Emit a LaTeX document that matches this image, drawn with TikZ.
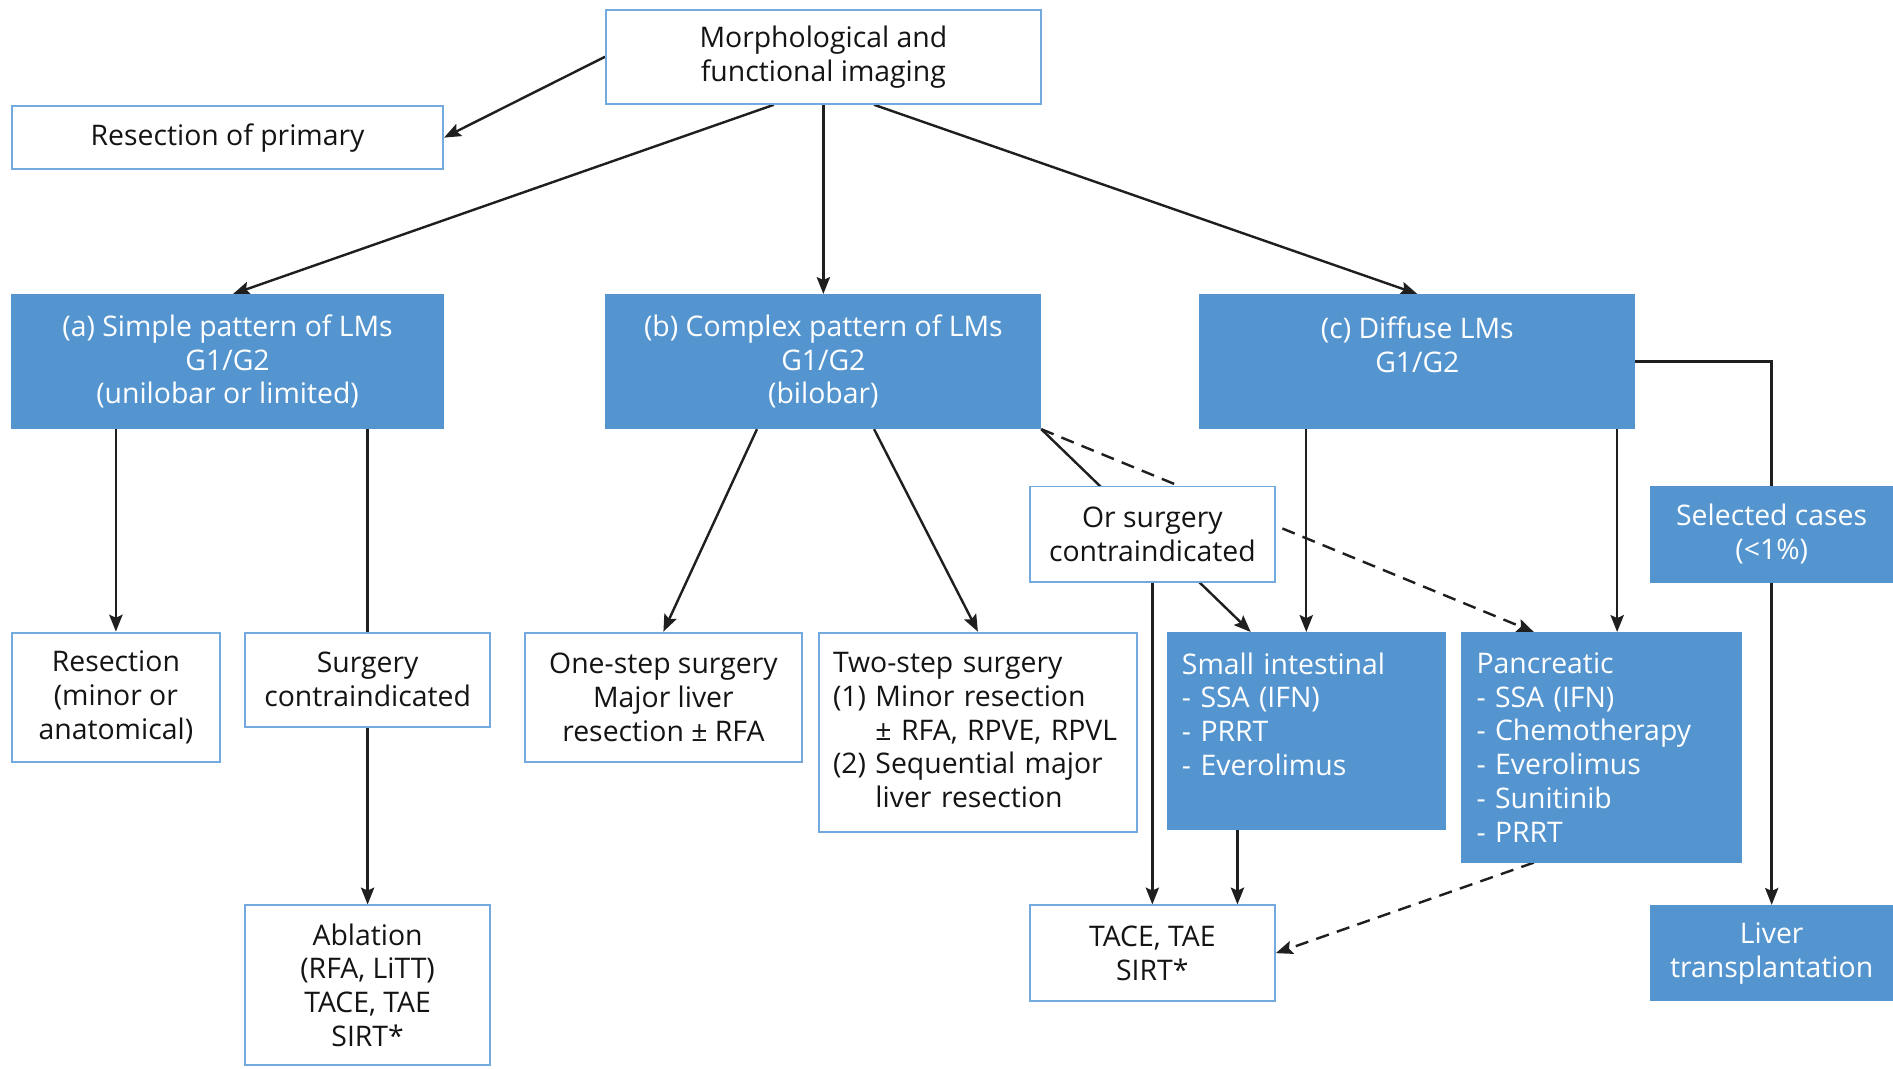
\documentclass[tikz,border=0pt]{standalone}
\usepackage{fontspec}
\setmainfont{Open Sans}
\usetikzlibrary{arrows.meta,calc,backgrounds}
\definecolor{boxblue}{RGB}{84,149,208}
\definecolor{edgeblue}{RGB}{115,170,222}
\definecolor{txt}{RGB}{20,20,20}
\tikzset{
  base/.style={rectangle, inner sep=0pt, align=center, font=\fontsize{23.5}{28}\selectfont},
  wbox/.style={base, draw=edgeblue, line width=1.6pt, fill=white, text=txt},
  bbox/.style={base, draw=boxblue, line width=1pt, fill=boxblue, text=white},
  leftal/.style={align=left, inner xsep=12pt},
  arr/.style={line width=2pt, draw=black!88, -{Stealth[length=14pt,width=11pt,inset=2.5pt]}},
  plain/.style={line width=2pt, draw=black!88},
  dsh/.style={arr, dash pattern=on 11pt off 7pt}
}
\begin{document}
\begin{tikzpicture}[x=1pt,y=-1pt]
\useasboundingbox (0,0) rectangle (1568,885);
\node[wbox, minimum width=360pt, minimum height=78pt] (morph) at (682,47) {Morphological and\\functional imaging};
\node[wbox, minimum width=357pt, minimum height=52pt] (rprim) at (188.5,114) {Resection of primary};
\node[bbox, minimum width=357pt, minimum height=111pt] (a) at (188.5,299.5) {(a) Simple pattern of LMs\\G1/G2\\(unilobar or limited)};
\node[bbox, minimum width=360pt, minimum height=111pt] (b) at (682,299.5) {(b) Complex pattern of LMs\\G1/G2\\(bilobar)};
\node[bbox, minimum width=360pt, minimum height=111pt] (c) at (1174,299.5) {(c) Diffuse LMs\\G1/G2\\\mbox{}};
\node[wbox, minimum width=172pt, minimum height=107pt] (res) at (96,577.5) {Resection\\(minor or\\anatomical)};
\node[wbox, minimum width=203pt, minimum height=78pt] (sc) at (304.5,563) {Surgery\\contraindicated};
\node[wbox, minimum width=203pt, minimum height=132pt] (abl) at (304.5,816) {Ablation\\(RFA, LiTT)\\TACE, TAE\\SIRT*};
\node[wbox, minimum width=229pt, minimum height=107pt] (one) at (549.5,577.5) {One-step surgery\\Major liver\\resection ± RFA};
\node[wbox, leftal, text width=240pt, minimum height=165pt] (two) at (810,606.5) {Two-step surgery\\(1) Minor resection\\\phantom{(1) }± RFA, RPVE, RPVL\\(2) Sequential major\\\phantom{(2) }liver resection};
\node[wbox, minimum width=203pt, minimum height=79pt] (orsc) at (954.5,442.5) {Or surgery\\contraindicated};
\node[bbox, leftal, text width=206pt, minimum height=163pt] (si) at (1082,605.5) {Small intestinal\\- SSA (IFN)\\- PRRT\\- Everolimus\\\mbox{}};
\node[bbox, leftal, text width=207pt, minimum height=190pt] (pan) at (1326.5,619) {Pancreatic\\- SSA (IFN)\\- Chemotherapy\\- Everolimus\\- Sunitinib\\- PRRT};
\node[bbox, minimum width=201pt, minimum height=79pt] (sel) at (1467.5,442.5) {Selected cases\\(<1\%)};
\node[wbox, minimum width=203pt, minimum height=79pt] (tace) at (954.5,789.5) {TACE, TAE\\SIRT*};
\node[bbox, minimum width=201pt, minimum height=79pt] (lt) at (1467.5,789.5) {Liver\\transplantation};
\begin{scope}[on background layer]
\draw[arr] (morph.west) -- (rprim.east);
\draw[arr] ($(morph.south)+(-41,0)$) -- ($(a.north)+(4.5,0)$);
\draw[arr] (morph.south) -- (b.north);
\draw[arr] ($(morph.south)+(42,0)$) -- (c.north);
\draw[arr] (res.north |- a.south) -- (res.north);
\draw[plain] (sc.north |- a.south) -- (sc.north);
\draw[arr] (sc.south) -- (abl.north);
\draw[arr] ($(b.south)+(-55,0)$) -- (one.north);
\draw[arr] ($(b.south)+(42,0)$) -- (two.north);
\draw[arr] (b.south east) -- ($(si.north)+(-46,0)$);
\draw[dsh] (b.south east) -- ($(pan.north)+(-56,0)$);
\draw[arr] (orsc.south) -- (tace.north);
\draw[arr] (c.south -| si.north) -- (si.north);
\coordinate (pt) at ($(pan.north)+(13,0)$);
\draw[arr] (pt |- c.south) -- (pt);
\draw[arr] (c.east) -| (lt.north);
\coordinate (st) at ($(si.south)+(-57,0)$);
\draw[arr] (st) -- (st |- tace.north);
\draw[dsh] ($(pan.south)+(-56,0)$) -- (tace.east);
\end{scope}
\end{tikzpicture}
\end{document}
